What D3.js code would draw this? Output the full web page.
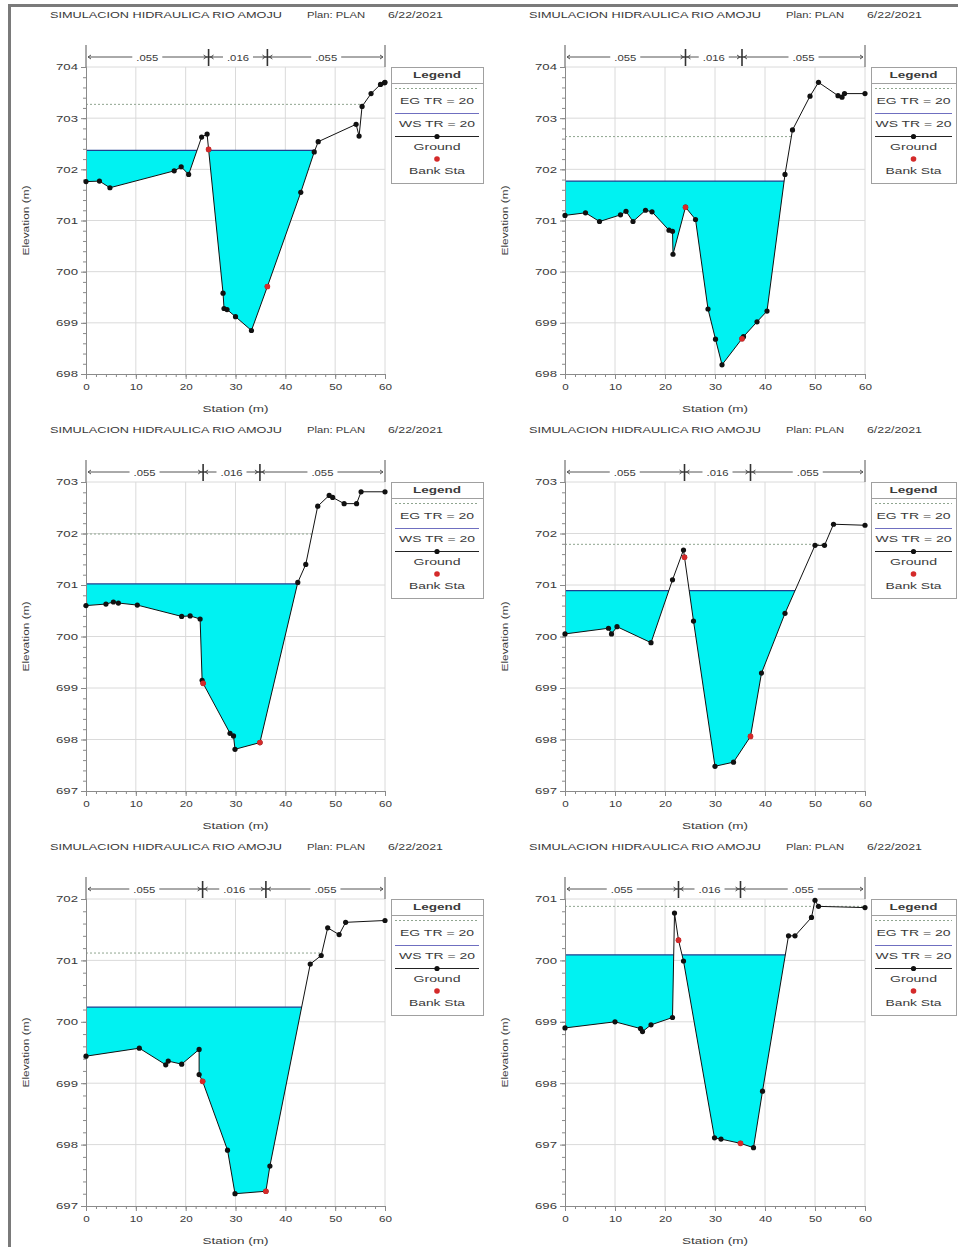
<!DOCTYPE html>
<html lang="en">
<head>
<meta charset="UTF-8">
<script src="https://d3js.org/d3.v7.min.js"></script>
<title>Simulacion hidraulica Rio Amoju</title>
<style>
    body { margin: 0; background: #fff; }
    svg text { font-family: "Liberation Sans", Arial, sans-serif; fill: #3a3a3a; font-size: 9px; }
</style>
</head>
<body>
<svg id="chart" width="958" height="1247"></svg>
<script>
// ground survey points of each cross section: station (m) / elevation (m)
const sta1 = [0, 2.7, 4.8, 17.7, 19.1, 20.6, 23.2, 24.3, 24.6, 27.5, 27.7, 28.3, 30.0, 33.2, 36.4, 43.1, 45.8, 46.6, 54.2, 54.8, 55.4, 57.2, 59.1, 59.9, 60];
const elev1 = [701.76, 701.77, 701.64, 701.97, 702.05, 701.90, 702.63, 702.69, 702.39, 699.58, 699.28, 699.26, 699.12, 698.85, 699.71, 701.55, 702.34, 702.54, 702.88, 702.65, 703.23, 703.48, 703.66, 703.69, 703.70];
const sta2 = [0, 4.1, 6.9, 11.1, 12.2, 13.6, 16.1, 17.4, 20.8, 21.5, 21.6, 24.1, 26.1, 28.6, 30.1, 31.4, 35.4, 35.7, 38.4, 40.4, 44.0, 45.5, 49.0, 50.7, 54.6, 55.4, 55.9, 60];
const elev2 = [701.10, 701.15, 700.98, 701.11, 701.18, 700.98, 701.20, 701.17, 700.81, 700.79, 700.34, 701.26, 701.02, 699.27, 698.68, 698.18, 698.69, 698.73, 699.02, 699.23, 701.90, 702.77, 703.43, 703.70, 703.44, 703.41, 703.48, 703.48];
const sta3 = [0, 4.0, 5.5, 6.5, 10.3, 19.2, 20.9, 22.9, 23.3, 23.5, 28.9, 29.6, 29.9, 34.9, 42.5, 44.1, 46.5, 48.8, 49.5, 51.8, 54.3, 55.2, 60];
const elev3 = [700.60, 700.63, 700.67, 700.65, 700.61, 700.39, 700.40, 700.34, 699.15, 699.09, 698.12, 698.07, 697.81, 697.94, 701.05, 701.40, 702.53, 702.74, 702.70, 702.58, 702.58, 702.81, 702.81];
const sta4 = [0, 8.7, 9.3, 10.4, 17.2, 21.5, 23.7, 23.9, 25.7, 30.0, 33.7, 37.1, 39.3, 44.0, 50.0, 51.9, 53.7, 60];
const elev4 = [700.05, 700.16, 700.05, 700.19, 699.88, 701.10, 701.68, 701.54, 700.30, 697.48, 697.56, 698.06, 699.29, 700.45, 701.77, 701.77, 702.18, 702.16];
const sta5 = [0, 10.7, 16.0, 16.5, 19.2, 22.7, 22.7, 23.4, 28.4, 29.9, 36.1, 36.9, 45.0, 47.2, 48.5, 50.8, 52.1, 60];
const elev5 = [699.44, 699.57, 699.30, 699.36, 699.31, 699.55, 699.14, 699.03, 697.91, 697.20, 697.24, 697.65, 700.94, 701.08, 701.53, 701.42, 701.62, 701.65];
const sta6 = [0, 10.0, 15.1, 15.5, 17.2, 21.5, 21.9, 22.7, 23.7, 29.9, 31.2, 35.1, 37.7, 39.5, 44.7, 46.0, 49.3, 50.0, 50.7, 60];
const elev6 = [698.90, 699.00, 698.89, 698.84, 698.95, 699.07, 700.77, 700.33, 699.99, 697.11, 697.09, 697.02, 696.95, 697.87, 700.40, 700.40, 700.70, 700.98, 700.88, 700.86];

// bank stations (left, right) and their elevations
const bankSta = [[24.6, 36.4], [24.1, 35.4], [23.5, 34.9], [23.9, 37.1], [23.4, 36.1], [22.7, 35.1]];
const bankElev = [[702.39, 699.71], [701.26, 698.69], [699.09, 697.94], [701.54, 698.06], [699.03, 697.24], [700.33, 697.02]];

// water surface and energy grade for TR = 20
const wsTR20 = [702.37, 701.77, 701.02, 700.89, 700.24, 700.09];
const egTR20 = [703.27, 702.64, 701.99, 701.79, 701.12, 700.88];

// axis ranges and labels
const yMin = [698, 698, 697, 697, 697, 696];
const yMax = [704, 704, 703, 703, 702, 701];
const xTicks = [0, 10, 20, 30, 40, 50, 60];
const nValues = [".055", ".016", ".055"];
const legendLabels = ["EG TR = 20", "WS TR = 20", "Ground", "Bank Sta"];

const stations = [sta1, sta2, sta3, sta4, sta5, sta6];
const elevations = [elev1, elev2, elev3, elev4, elev5, elev6];

const cols = [{x0: 86, x1: 385}, {x0: 565, x1: 865}];
const rows = [{top: 67, bottom: 374}, {top: 482, bottom: 791}, {top: 899, bottom: 1206}];

const svg = d3.select("#chart");

// the page frame
svg.append("path")
    .attr("d", "M9.5,1247V5.5H958")
    .attr("fill", "none").attr("stroke", "#7a7a7a").attr("stroke-width", 3);

function fit(sel, w) {
    sel.attr("textLength", w).attr("lengthAdjust", "spacingAndGlyphs");
}

function drawPanel(i) {
    const c = cols[i % 2], r = rows[Math.floor(i / 2)];
    const x = d3.scaleLinear().domain([0, 60]).range([c.x0, c.x1]);
    const y = d3.scaleLinear().domain([yMin[i], yMax[i]]).range([r.bottom, r.top]);
    const pts = stations[i].map((s, k) => [s, elevations[i][k]]);
    const g = svg.append("g");

    // titles
    const t1 = g.append("text").attr("x", c.x0 - 36).attr("y", r.top - 49).text("SIMULACION HIDRAULICA RIO AMOJU");
    fit(t1, 232);
    const t2 = g.append("text").attr("x", c.x0 + 221).attr("y", r.top - 49).text("Plan: PLAN");
    fit(t2, 58);
    const t3 = g.append("text").attr("x", c.x0 + 302).attr("y", r.top - 49).text("6/22/2021");
    fit(t3, 55);

    // grid
    const yInts = d3.range(yMin[i], yMax[i] + 0.5, 1);
    g.append("g").selectAll("line").data(xTicks.slice(1)).join("line")
        .attr("x1", d => x(d)).attr("x2", d => x(d))
        .attr("y1", r.top).attr("y2", r.bottom)
        .attr("stroke", "#dadada");
    g.append("g").selectAll("line").data(yInts.slice(1)).join("line")
        .attr("x1", c.x0).attr("x2", c.x1)
        .attr("y1", d => y(d)).attr("y2", d => y(d))
        .attr("stroke", "#dadada");

    // clip = everything above the ground line
    const clipId = "above" + i;
    g.append("clipPath").attr("id", clipId).append("path")
        .attr("d", d3.area().x(d => x(d[0])).y0(r.top - 1).y1(d => y(d[1]))(pts));

    const wet = g.append("g").attr("clip-path", `url(#${clipId})`);
    wet.append("rect")
        .attr("x", c.x0).attr("width", c.x1 - c.x0)
        .attr("y", y(wsTR20[i])).attr("height", r.bottom - y(wsTR20[i]) + 2)
        .attr("fill", "#00f2f2");
    wet.append("line")
        .attr("x1", c.x0).attr("x2", c.x1)
        .attr("y1", y(wsTR20[i])).attr("y2", y(wsTR20[i]))
        .attr("stroke", "#1f3f8f").attr("stroke-width", 1.3);
    wet.append("line")
        .attr("x1", c.x0).attr("x2", c.x1)
        .attr("y1", y(egTR20[i])).attr("y2", y(egTR20[i]))
        .attr("stroke", "#8fa58f").attr("stroke-dasharray", "2,2");

    // axes
    const ya = g.append("g").attr("transform", `translate(${c.x0},0)`)
        .call(d3.axisLeft(y).tickValues(d3.range(yMin[i], yMax[i] + 0.01, 0.2)).tickSize(3).tickFormat(""));
    const yb = g.append("g").attr("transform", `translate(${c.x0},0)`)
        .call(d3.axisLeft(y).tickValues(yInts).tickSize(5).tickPadding(3).tickFormat(d3.format("d")));
    const xa = g.append("g").attr("transform", `translate(0,${r.bottom})`)
        .call(d3.axisBottom(x).tickValues(d3.range(0, 60.1, 2)).tickSize(3).tickFormat(""));
    const xb = g.append("g").attr("transform", `translate(0,${r.bottom})`)
        .call(d3.axisBottom(x).tickValues(xTicks).tickSize(5).tickPadding(5).tickFormat(d3.format("d")));
    [ya, yb, xa, xb].forEach(a => {
        a.select(".domain").attr("stroke", "#8a8a8a");
        a.selectAll(".tick line").attr("stroke", "#8a8a8a");
    });
    yb.selectAll(".tick text").attr("font-size", 9).attr("fill", "#3a3a3a").call(fit, 22);
    xb.selectAll(".tick text").attr("font-size", 9).attr("fill", "#3a3a3a")
        .each(function(d) { fit(d3.select(this), String(d).length * 6.5); });

    const xl = g.append("text").attr("x", (c.x0 + c.x1) / 2).attr("y", r.bottom + 38)
        .attr("text-anchor", "middle").text("Station (m)");
    fit(xl, 66);
    const yl = g.append("text")
        .attr("transform", `translate(${c.x0 - 57},${(r.top + r.bottom) / 2}) rotate(-90)`)
        .attr("text-anchor", "middle").text("Elevation (m)");
    fit(yl, 70);

    // ground line and points
    g.append("path").attr("d", d3.line().x(d => x(d[0])).y(d => y(d[1]))(pts))
        .attr("fill", "none").attr("stroke", "#111").attr("stroke-width", 1);
    g.append("g").selectAll("circle").data(pts).join("circle")
        .attr("cx", d => x(d[0])).attr("cy", d => y(d[1])).attr("r", 2.6).attr("fill", "#111");
    g.append("g").selectAll("circle").data(bankSta[i]).join("circle")
        .attr("cx", d => x(d)).attr("cy", (d, k) => y(bankElev[i][k])).attr("r", 2.8).attr("fill", "#d42a2a");

    // Manning n bar above the plot
    const ry = r.top - 10;
    const marks = [0, bankSta[i][0], bankSta[i][1], 60];
    const bar = g.append("g").attr("stroke", "#555").attr("fill", "none");
    [0, 60].forEach(s => bar.append("line")
        .attr("x1", x(s)).attr("x2", x(s)).attr("y1", r.top - 22).attr("y2", r.top));
    bankSta[i].forEach(s => {
        bar.append("line")
            .attr("x1", x(s)).attr("x2", x(s)).attr("y1", ry - 8).attr("y2", ry + 9)
            .attr("stroke", "#333").attr("stroke-width", 1.6);
        bar.append("line")
            .attr("x1", x(s) - 4).attr("x2", x(s) + 4).attr("y1", ry).attr("y2", ry)
            .attr("stroke", "#333").attr("stroke-width", 1.4);
    });
    nValues.forEach((n, k) => {
        const a = x(marks[k]), b = x(marks[k + 1]), m = (a + b) / 2;
        bar.append("line").attr("x1", a + 2).attr("x2", m - 15).attr("y1", ry).attr("y2", ry);
        bar.append("line").attr("x1", m + 15).attr("x2", b - 2).attr("y1", ry).attr("y2", ry);
        bar.append("path").attr("d", `M${a + 5},${ry - 2}L${a + 2},${ry}L${a + 5},${ry + 2}`);
        bar.append("path").attr("d", `M${b - 5},${ry - 2}L${b - 2},${ry}L${b - 5},${ry + 2}`);
        const lt = g.append("text").attr("x", m).attr("y", ry + 3.5).attr("text-anchor", "middle").text(n);
        fit(lt, 22);
    });

    // legend
    const lx = c.x1 + 6, lw = Math.min(92, 956 - lx), ly = r.top, cx = lx + lw / 2;
    const lg = g.append("g");
    lg.append("rect").attr("x", lx + 0.5).attr("y", ly + 0.5).attr("width", lw).attr("height", 116)
        .attr("fill", "#fff").attr("stroke", "#a0a0a0");
    lg.append("line").attr("x1", lx).attr("x2", lx + lw).attr("y1", ly + 16.5).attr("y2", ly + 16.5).attr("stroke", "#a0a0a0");
    const hd = lg.append("text").attr("x", cx).attr("y", ly + 11).attr("text-anchor", "middle")
        .attr("font-weight", "bold").text("Legend");
    fit(hd, 48);
    lg.append("line").attr("x1", lx + 4).attr("x2", lx + lw - 4).attr("y1", ly + 21.5).attr("y2", ly + 21.5)
        .attr("stroke", "#8fa58f").attr("stroke-dasharray", "2,2");
    lg.append("line").attr("x1", lx + 4).attr("x2", lx + lw - 4).attr("y1", ly + 46.5).attr("y2", ly + 46.5)
        .attr("stroke", "#6f6fc0");
    lg.append("line").attr("x1", lx + 4).attr("x2", lx + lw - 4).attr("y1", ly + 69.5).attr("y2", ly + 69.5)
        .attr("stroke", "#222");
    lg.append("circle").attr("cx", cx).attr("cy", ly + 69.5).attr("r", 2.6).attr("fill", "#111");
    lg.append("circle").attr("cx", cx).attr("cy", ly + 92).attr("r", 2.8).attr("fill", "#d42a2a");
    const ty = [37, 60, 83, 107], tw = [74, 76, 47, 56];
    legendLabels.forEach((s, k) => {
        const t = lg.append("text").attr("x", cx).attr("y", ly + ty[k]).attr("text-anchor", "middle").text(s);
        fit(t, Math.min(tw[k], lw - 6));
    });
}

d3.range(6).forEach(drawPanel);
</script>
</body>
</html>
